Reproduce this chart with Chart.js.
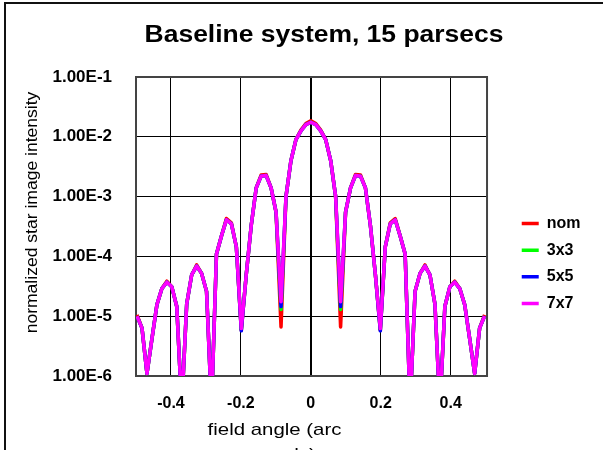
<!DOCTYPE html>
<html>
<head>
<meta charset="utf-8">
<script src="https://cdn.jsdelivr.net/npm/chart.js@4.4.1/dist/chart.umd.min.js"></script>
<style>
  html, body { margin: 0; padding: 0; background: #fff; overflow: hidden; }
  #frame { position: absolute; left: 4px; top: 2px; width: 800px; height: 800px;
           border-left: 2px solid #111; border-top: 2px solid #111; }
  #wrap { position: absolute; left: 0; top: 0; width: 603px; height: 450px; }
</style>
</head>
<body>
<div id="frame"></div>
<div id="wrap"><canvas id="graph" width="603" height="450"></canvas></div>
<script>
/* ---------------- donnees ---------------- */

const seriesNames = ["nom", "3x3", "5x5", "7x7"];
const seriesColors = ["#ff0000", "#00ff00", "#0000ff", "#ff00ff"];

// field angle (arc seconds)
const angles = [
  -0.497, -0.4828, -0.4686, -0.4544, -0.4402, -0.426, -0.4118, -0.3976, -0.3834, -0.3692,
  -0.355, -0.3408, -0.3266, -0.3124, -0.2982, -0.284, -0.2698, -0.2556, -0.2414, -0.2272,
  -0.213, -0.1988, -0.1846, -0.1704, -0.1562, -0.142, -0.1278, -0.1136, -0.0994, -0.0852,
  -0.071, -0.0568, -0.0426, -0.0284, -0.0142, 0,
  0.0142, 0.0284, 0.0426, 0.0568, 0.071, 0.0852, 0.0994, 0.1136, 0.1278, 0.142,
  0.1562, 0.1704, 0.1846, 0.1988, 0.213, 0.2272, 0.2414, 0.2556, 0.2698, 0.284,
  0.2982, 0.3124, 0.3266, 0.3408, 0.355, 0.3692, 0.3834, 0.3976, 0.4118, 0.426,
  0.4402, 0.4544, 0.4686, 0.4828, 0.497
];

const nom = [
  1.05e-5, 6.3e-6, 1.1e-6, 4.2e-6, 1.55e-5, 2.9e-5, 3.85e-5, 3.1e-5, 1.45e-5, 3e-7,
  1.6e-5, 4.9e-5, 7.2e-5, 5.2e-5, 2.6e-5, 3e-7, 1.1e-4, 2.2e-4, 4.3e-4, 3.65e-4,
  1.45e-4, 5.8e-6, 5e-5, 3.3e-4, 1.4e-3, 2.3e-3, 2.35e-3, 1.4e-3, 5.5e-4, 6.6e-6,
  1.0e-3, 4.0e-3, 9.0e-3, 1.3e-2, 1.66e-2, 1.85e-2,
  1.66e-2, 1.3e-2, 9.0e-3, 4.0e-3, 1.0e-3, 6.6e-6, 5.5e-4, 1.4e-3, 2.35e-3, 2.3e-3,
  1.4e-3, 3.3e-4, 5e-5, 5.8e-6, 1.45e-4, 3.65e-4, 4.3e-4, 2.2e-4, 1.1e-4, 3e-7,
  2.6e-5, 5.2e-5, 7.2e-5, 4.9e-5, 1.6e-5, 3e-7, 1.45e-5, 3.1e-5, 3.85e-5, 2.9e-5,
  1.55e-5, 4.2e-6, 1.1e-6, 6.3e-6, 1.05e-5
];

const s3x3 = [
  1.0e-5, 6.3e-6, 1.1e-6, 4.2e-6, 1.55e-5, 2.9e-5, 3.7e-5, 3.1e-5, 1.45e-5, 3e-7,
  1.6e-5, 4.9e-5, 6.9e-5, 5.2e-5, 2.6e-5, 3e-7, 1.1e-4, 2.2e-4, 4.1e-4, 3.5e-4,
  1.45e-4, 6.0e-6, 5e-5, 3.3e-4, 1.4e-3, 2.2e-3, 2.25e-3, 1.4e-3, 5.5e-4, 1.3e-5,
  1.0e-3, 4.0e-3, 9.0e-3, 1.25e-2, 1.6e-2, 1.75e-2,
  1.6e-2, 1.25e-2, 9.0e-3, 4.0e-3, 1.0e-3, 1.3e-5, 5.5e-4, 1.4e-3, 2.25e-3, 2.2e-3,
  1.4e-3, 3.3e-4, 5e-5, 6.0e-6, 1.45e-4, 3.5e-4, 4.1e-4, 2.2e-4, 1.1e-4, 3e-7,
  2.6e-5, 5.2e-5, 6.9e-5, 4.9e-5, 1.6e-5, 3e-7, 1.45e-5, 3.1e-5, 3.7e-5, 2.9e-5,
  1.55e-5, 4.2e-6, 1.1e-6, 6.3e-6, 1.0e-5
];

const s5x5 = [
  1.0e-5, 6.3e-6, 1.1e-6, 4.2e-6, 1.55e-5, 2.9e-5, 3.7e-5, 3.1e-5, 1.45e-5, 3e-7,
  1.6e-5, 4.9e-5, 6.9e-5, 5.2e-5, 2.6e-5, 3e-7, 1.1e-4, 2.2e-4, 4.1e-4, 3.5e-4,
  1.45e-4, 5.7e-6, 5e-5, 3.3e-4, 1.4e-3, 2.2e-3, 2.25e-3, 1.4e-3, 5.5e-4, 1.45e-5,
  1.0e-3, 4.0e-3, 9.0e-3, 1.25e-2, 1.6e-2, 1.75e-2,
  1.6e-2, 1.25e-2, 9.0e-3, 4.0e-3, 1.0e-3, 1.45e-5, 5.5e-4, 1.4e-3, 2.25e-3, 2.2e-3,
  1.4e-3, 3.3e-4, 5e-5, 5.7e-6, 1.45e-4, 3.5e-4, 4.1e-4, 2.2e-4, 1.1e-4, 3e-7,
  2.6e-5, 5.2e-5, 6.9e-5, 4.9e-5, 1.6e-5, 3e-7, 1.45e-5, 3.1e-5, 3.7e-5, 2.9e-5,
  1.55e-5, 4.2e-6, 1.1e-6, 6.3e-6, 1.0e-5
];

const s7x7 = [
  1.0e-5, 6.3e-6, 1.1e-6, 4.2e-6, 1.55e-5, 2.9e-5, 3.7e-5, 3.1e-5, 1.45e-5, 3e-7,
  1.6e-5, 4.9e-5, 6.9e-5, 5.2e-5, 2.6e-5, 3e-7, 1.1e-4, 2.2e-4, 4.1e-4, 3.5e-4,
  1.45e-4, 6.2e-6, 5e-5, 3.3e-4, 1.4e-3, 2.2e-3, 2.25e-3, 1.4e-3, 5.5e-4, 1.75e-5,
  1.0e-3, 4.0e-3, 9.0e-3, 1.25e-2, 1.6e-2, 1.75e-2,
  1.6e-2, 1.25e-2, 9.0e-3, 4.0e-3, 1.0e-3, 1.75e-5, 5.5e-4, 1.4e-3, 2.25e-3, 2.2e-3,
  1.4e-3, 3.3e-4, 5e-5, 6.2e-6, 1.45e-4, 3.5e-4, 4.1e-4, 2.2e-4, 1.1e-4, 3e-7,
  2.6e-5, 5.2e-5, 6.9e-5, 4.9e-5, 1.6e-5, 3e-7, 1.45e-5, 3.1e-5, 3.7e-5, 2.9e-5,
  1.55e-5, 4.2e-6, 1.1e-6, 6.3e-6, 1.0e-5
];

const yTickValues = [1e-6, 1e-5, 1e-4, 1e-3, 1e-2, 1e-1];
const yTickLabels = ["1.00E-6", "1.00E-5", "1.00E-4", "1.00E-3", "1.00E-2", "1.00E-1"];
const xTickValues = [-0.4, -0.2, 0, 0.2, 0.4];
const xTickLabels = ["-0.4", "-0.2", "0", "0.2", "0.4"];

const chartTitle = "Baseline system, 15 parsecs";
const yTitle = "normalized star image intensity";
const xTitle = ["field angle (arc", "seconds)"];

/* ---------------- construction du graphique ---------------- */

const FONT = '"Liberation Sans", Arial, sans-serif';
const allSeries = [nom, s3x3, s5x5, s7x7];

const datasets = allSeries.map((vals, i) => ({
    label: seriesNames[i],
    data: angles.map((a, j) => ({ x: a, y: vals[j] })),
    borderColor: seriesColors[i],
    backgroundColor: seriesColors[i],
    borderWidth: 3.5,
    borderJoinStyle: "round",
    pointRadius: 0,
    tension: 0,
    clip: 0,
    order: 4 - i          // 7x7 drawn on top
}));

// titres places comme dans l'original (Excel les decale)
function stretched(ctx, str, x, y, sx, rot) {
    ctx.save();
    ctx.translate(x, y);
    if (rot) ctx.rotate(rot);
    ctx.scale(sx, 1);
    ctx.fillText(str, 0, 0);
    ctx.restore();
}

const framePlugin = {
    id: "frame",
    beforeDatasetsDraw(chart) {
        const a = chart.chartArea;
        const ctx = chart.ctx;
        ctx.save();
        ctx.strokeStyle = "#444";
        ctx.lineWidth = 2;
        ctx.strokeRect(a.left, a.top, a.right - a.left, a.bottom - a.top);
        ctx.restore();
    },
    afterDraw(chart) {
        const ctx = chart.ctx;
        ctx.save();
        ctx.fillStyle = "#000";
        ctx.textAlign = "center";
        ctx.textBaseline = "alphabetic";
        ctx.font = "bold 23px " + FONT;
        stretched(ctx, chartTitle, 324, 41.7, 1.15, 0);
        ctx.font = "16px " + FONT;
        stretched(ctx, yTitle, 36.5, 212.5, 1.096, -Math.PI / 2);
        ctx.font = "17px " + FONT;
        stretched(ctx, xTitle[0], 274.5, 435, 1.2, 0);
        stretched(ctx, xTitle[1], 274.5, 460, 1.2, 0);
        ctx.restore();
    }
};

const ctx = document.getElementById("graph").getContext("2d");

const config = {
    type: "line",
    data: { datasets: datasets },
    options: {
        responsive: false,
        animation: false,
        devicePixelRatio: 1,
        layout: { padding: { left: 0, right: 12.5, top: 77, bottom: 0 } },
        scales: {
            x: {
                type: "linear",
                min: -0.5,
                max: 0.504,
                afterBuildTicks: (s) => { s.ticks = xTickValues.map(v => ({ value: v })); },
                afterFit: (s) => { s.height = 74; },
                grid: {
                    color: "#000",
                    lineWidth: (c) => (c.tick && c.tick.value === 0 ? 2 : 1),
                    drawTicks: false
                },
                border: { display: false },
                ticks: {
                    autoSkip: false,
                    maxRotation: 0,
                    padding: 18,
                    color: "#000",
                    font: { family: FONT, size: 16, weight: "bold" },
                    callback: (v, i) => xTickLabels[i]
                }
            },
            y: {
                type: "logarithmic",
                min: 1e-6,
                max: 1e-1,
                afterBuildTicks: (s) => { s.ticks = yTickValues.map(v => ({ value: v })); },
                afterFit: (s) => { s.width = 136; },
                grid: { color: "#000", lineWidth: 1, drawTicks: false },
                border: { display: false },
                ticks: {
                    autoSkip: false,
                    padding: 24,
                    color: "#000",
                    font: { family: FONT, size: 17, weight: "bold" },
                    callback: (v, i) => yTickLabels[i]
                }
            },
            // espace vide entre le graphique et la legende
            gap: {
                type: "linear",
                position: "right",
                grid: { display: false },
                border: { display: false },
                ticks: { display: false },
                afterFit: (s) => { s.width = 24; }
            }
        },
        plugins: {
            title: { display: false },
            tooltip: { enabled: false },
            legend: {
                position: "right",
                labels: {
                    usePointStyle: true,
                    pointStyle: "line",
                    pointStyleWidth: 17,
                    padding: 10.7,
                    color: "#000",
                    font: { family: FONT, size: 16, weight: "bold" },
                    sort: (a, b) => a.datasetIndex - b.datasetIndex
                }
            }
        }
    },
    plugins: [framePlugin]
};

const myChart = new Chart(ctx, config);
</script>
</body>
</html>
